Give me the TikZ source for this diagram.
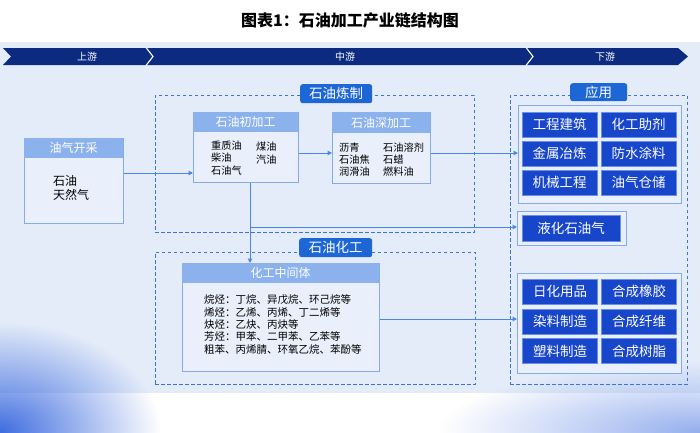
\documentclass[tikz,border=0pt]{standalone}
\usepackage{fontspec}
\setmainfont{Noto Sans CJK SC}
\usetikzlibrary{arrows.meta,fadings}
\definecolor{bgblue}{HTML}{E4ECF9}
\definecolor{navy}{HTML}{0C2B80}
\definecolor{tabblue}{HTML}{1D66D6}
\definecolor{hdrblue}{HTML}{8CB2EE}
\definecolor{bodyfill}{HTML}{E9F0FB}
\definecolor{bordblue}{HTML}{86ABEA}
\definecolor{itemblue}{HTML}{1846CA}
\definecolor{itembord}{HTML}{6A8FE6}
\definecolor{dashblue}{HTML}{3A76D6}
\definecolor{linkblue}{HTML}{4A86E6}
\definecolor{cornerblue}{HTML}{3F6DE0}
\tikzfading[name=cornerfade, inner color=transparent!0, outer color=transparent!100]
\begin{document}
\begin{tikzpicture}[x=1pt,y=-1pt,
  boxbody/.style={draw=bordblue, line width=0.8pt, fill=bodyfill, anchor=north west, inner sep=0pt},
  hdr/.style={fill=hdrblue, anchor=north west, inner sep=0pt, text=white, font=\fontsize{12}{14}\selectfont},
  bodytxt/.style={anchor=west, align=left, inner sep=0pt, font=\fontsize{10.2}{12.3}\selectfont, text=black},
  dashbox/.style={draw=dashblue, dashed, dash pattern=on 3.5pt off 2.5pt, line width=0.9pt, anchor=north west, inner sep=0pt},
  tabbox/.style={fill=tabblue, rounded corners=2.5pt, text=white, inner sep=0pt, font=\fontsize{13.5}{15}\selectfont},
  appouter/.style={draw=bordblue, line width=0.9pt, fill=bodyfill, anchor=north west, inner sep=0pt},
  item/.style={fill=itemblue, draw=itembord, line width=0.4pt, text=white, inner sep=0pt, minimum width=75pt, minimum height=25pt, font=\fontsize{13.5}{15}\selectfont},
  arr/.style={draw=linkblue, line width=1pt, -{Triangle[length=4.5pt,width=4.5pt]}},
  bantxt/.style={text=white, font=\fontsize{10}{12}\selectfont, inner sep=0pt}
]
\useasboundingbox (0,0) rectangle (700,432);
% background
\fill[white] (0,0) rectangle (700,432);
\fill[bgblue] (0,42) rectangle (700,393);
\fill[white] (0,393) rectangle (700,432);
\begin{scope}
\clip (0,300) rectangle (700,432);
\fill[cornerblue, path fading=cornerfade] (0,432) ellipse [x radius=160pt, y radius=110pt];
\fill[cornerblue!55, path fading=cornerfade] (700,432) ellipse [x radius=260pt, y radius=70pt];
\end{scope}

% title
\node[font=\fontsize{16}{18}\selectfont\bfseries] (title) at (350,20) {图表1：石油加工产业链结构图};

% banner
\fill[navy] (3,48) -- (678,48) -- (688,56.5) -- (678,65) -- (3,65) -- (11,56.5) -- cycle;
\draw[white, line width=1.1pt] (146,47.5) -- (153,56.5) -- (146,65.5);
\draw[white, line width=1.1pt] (526,47.5) -- (533,56.5) -- (526,65.5);
\node[bantxt] (up) at (87,56.5) {上游};
\node[bantxt] (mid) at (345,56.5) {中游};
\node[bantxt] (down) at (605,56.5) {下游};

% dashed groups
\node[dashbox, minimum width=319pt, minimum height=137pt] (lz) at (155,95) {};
\node[tabbox, minimum width=72pt, minimum height=19pt, anchor=north west] (lztab) at (300,84) {石油炼制};
\node[dashbox, minimum width=320pt, minimum height=132pt] (hz) at (155,252) {};
\node[tabbox, minimum width=73pt, minimum height=19pt, anchor=north west] (hztab) at (299,238) {石油化工};
\node[dashbox, minimum width=177pt, minimum height=289pt] (yy) at (510,95) {};
\node[tabbox, minimum width=57pt, minimum height=18pt, anchor=north west] (yytab) at (570,83) {应用};

% 油气开采
\node[boxbody, minimum width=99pt, minimum height=85pt] (yq) at (24,138) {};
\node[hdr, minimum width=99pt, minimum height=20pt] (yqh) at (24,138) {油气开采};
\node[bodytxt, font=\fontsize{12}{14.5}\selectfont] (yqt) at (53,188) {石油\\天然气};

% 石油初加工
\node[boxbody, minimum width=105pt, minimum height=70pt] (cj) at (193,112) {};
\node[hdr, minimum width=105pt, minimum height=20pt] (cjh) at (193,112) {石油初加工};
\node[bodytxt] (cjt1) at (211,158) {重质油\\柴油\\石油气};
\node[bodytxt] (cjt2) at (256,153) {煤油\\汽油};

% 石油深加工
\node[boxbody, minimum width=98pt, minimum height=71pt] (sj) at (332,112) {};
\node[hdr, minimum width=98pt, minimum height=21pt] (sjh) at (332,112) {石油深加工};
\node[bodytxt] (sjt1) at (339,159.5) {沥青\\石油焦\\润滑油};
\node[bodytxt] (sjt2) at (383,159.5) {石油溶剂\\石蜡\\燃料油};

% 化工中间体
\node[boxbody, minimum width=197pt, minimum height=108pt] (hg) at (182,263) {};
\node[hdr, minimum width=197pt, minimum height=20pt] (hgh) at (182,263) {化工中间体};
\node[bodytxt, font=\fontsize{10.5}{12.3}\selectfont] (hgt) at (204,324.5) {烷烃：丁烷、异戊烷、环己烷等\\烯烃：乙烯、丙烯、丁二烯等\\炔烃：乙炔、丙炔等\\芳烃：甲苯、二甲苯、乙苯等\\粗苯、丙烯腈、环氧乙烷、苯酚等};

% application group 1
\node[appouter, minimum width=163pt, minimum height=98pt] (app1) at (518,105) {};
\node[item] (a11) at (559.5,124.5) {工程建筑};
\node[item] (a12) at (638.5,124.5) {化工助剂};
\node[item] (a21) at (559.5,153.5) {金属冶炼};
\node[item] (a22) at (638.5,153.5) {防水涂料};
\node[item] (a31) at (559.5,182.5) {机械工程};
\node[item] (a32) at (638.5,182.5) {油气仓储};

% LPG
\node[appouter, minimum width=109pt, minimum height=34pt] (lpg) at (517,211) {};
\node[item, minimum width=98pt, minimum height=26pt] (lpgi) at (571,228) {液化石油气};

% application group 2
\node[appouter, minimum width=164pt, minimum height=100pt] (app2) at (517,273) {};
\node[item] (b11) at (560,291.5) {日化用品};
\node[item] (b12) at (639,291.5) {合成橡胶};
\node[item] (b21) at (560,321.5) {染料制造};
\node[item] (b22) at (639,321.5) {合成纤维};
\node[item] (b31) at (560,351) {塑料制造};
\node[item] (b32) at (639,351) {合成树脂};

% connectors
\coordinate (br) at (250,227);
\draw[arr] (yq.east |- 0,173) -- (cj.west |- 0,173);
\draw[arr] (cj.east |- 0,153) -- (sj.west |- 0,153);
\draw[arr] (sj.east |- 0,153) -- (app1.west |- 0,153);
\draw[arr] (cj.south -| br) -- (hg.north -| br);
\draw[arr] (br) -- (lpg.west |- br);
\draw[arr] (hg.east |- 0,319) -- (app2.west |- 0,319);
\end{tikzpicture}
\end{document}
